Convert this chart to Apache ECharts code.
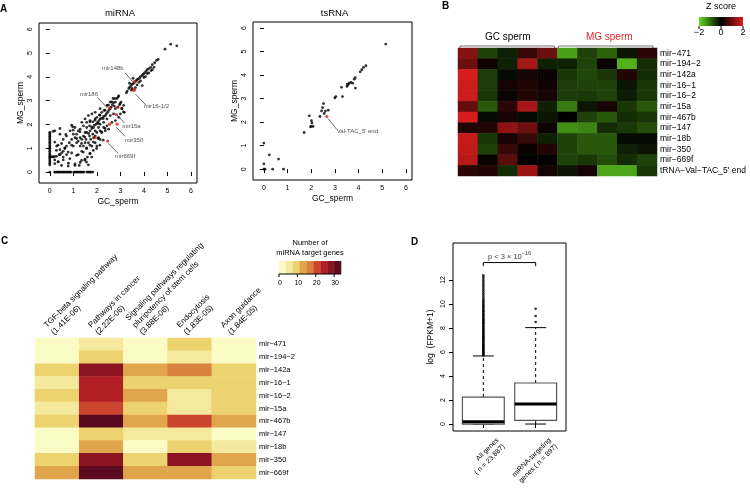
<!DOCTYPE html>
<html><head><meta charset="utf-8">
<script src="https://cdn.jsdelivr.net/npm/echarts@6/dist/echarts.min.js"></script>
<style>html,body{margin:0;padding:0;background:#fff}#c{width:750px;height:492px}</style>
</head><body><div id="c"></div>
<script>
const FONT = 'Liberation Sans, Arial, Helvetica, sans-serif';

// ---------------- Panel A data ----------------
const miRNAZeroRowX = [0,0.2,0.24,0.29,0.34,0.38,0.43,0.48,0.53,0.57,0.62,0.67,0.72,0.76,0.81,0.86,0.9,1.02,1.07,1.12,1.16,1.21,1.26,1.31,1.35,1.4,1.45,1.57,1.62,1.67,1.72,1.77,1.83];
const miRNAZeroColY = [0.3,0.36,0.42,0.48,0.55,0.6,0.64,0.68,0.74,0.8,0.87,0.93,1.0,1.06,1.12,1.19,1.25,1.31,1.38,1.44,1.5,1.56,1.62,1.67];
const miRNABump = [[0.06,0.64],[0.11,0.64],[0.16,0.64],[0.2,0.65]];
const miRNACloud = [
[2.93,3.2],[2.86,3.09],[2.79,2.94],[2.71,2.91],[2.74,2.77],[2.66,2.83],[2.61,2.73],[2.57,2.66],[2.51,2.59],[2.46,2.51],
[2.4,2.44],[2.36,2.37],[2.29,2.34],[2.21,2.26],[2.14,2.23],[2.09,2.16],[2.03,2.09],[1.97,2.01],[1.9,1.97],[1.86,1.87],
[1.79,1.83],[1.71,1.73],[2.79,2.66],[2.89,2.73],[2.97,2.83],[3.03,2.94],[3.07,2.66],[3.14,2.8],[3.17,2.51],[3.0,2.44],
[2.69,3.09],[2.57,2.94],[2.43,2.8],[2.31,2.59],[2.21,2.51],[2.11,2.4],[2.0,2.3],[1.93,2.23],[1.83,2.11],[1.69,1.94],
[1.57,1.87],[2.14,2.01],[2.29,2.09],[2.43,2.23],[2.57,2.37],[2.71,2.44],[2.07,1.87],[1.93,1.73],[2.0,1.66],[2.14,1.73],
[1.83,1.59],[1.69,1.51],[1.5,1.66],[1.43,1.51],[1.36,1.37],[1.29,1.44],[1.21,1.3],[1.54,1.37],[1.64,1.23],[1.74,1.37],
[1.86,1.44],[1.93,1.23],[1.79,1.09],[1.57,1.01],[1.43,1.09],[1.29,1.09],[1.14,1.23],[1.07,1.44],[1.0,1.59],[0.93,1.37],
[0.83,1.23],[0.71,1.09],[0.64,1.01],[0.57,0.87],[0.5,0.8],[0.4,0.73],[0.29,0.66],[0.21,0.51],[0.36,0.44],[0.57,0.51],
[0.79,0.37],[1.07,0.34],[1.29,0.4],[1.5,0.54],[1.6,0.63],[1.71,0.77],[1.21,0.73],[0.93,0.8],[0.71,0.73],[0.43,0.94],
[0.29,1.09],[0.21,1.73],[0.43,1.59],[0.57,1.37],[0.71,1.51],[0.93,1.97],[1.07,1.87],[1.21,1.73],[1.36,2.09],[1.5,2.23],
[1.64,2.37],[1.79,2.44],[1.93,2.51],[2.14,2.66],[1.29,1.8],[1.43,1.94],[1.57,2.09],[1.71,2.16],[1.57,1.66],[1.14,1.59],
[0.86,1.73],[1.0,1.09],[1.36,0.87],[1.5,1.23],[1.93,1.51],[2.07,1.44],[2.21,1.66],[2.36,1.73],[2.5,1.8],[2.29,1.87],
[2.43,1.94],[2.64,2.09],[2.79,2.16],[2.93,2.3],[2.14,1.37],[2.0,1.09],[1.64,0.3],
[0.14,1.71],[0.43,1.83],[0.68,1.58],[0.97,1.9],[0.99,1.76],[1.14,1.41],[1.28,1.69],[0.21,1.26],[0.35,1.13],[0.5,1.2],
[0.64,0.99],[0.28,0.91],[0.43,0.73],[0.57,0.63],[0.78,0.84],[0.93,1.13],[0.85,0.56],[0.35,0.42],[0.21,0.35],[0.5,0.28],
[0.78,0.25],[1.07,0.28],[1.25,0.28],[1.56,0.42],[1.35,0.49],[1.14,0.7],[1.42,0.84],[1.56,0.99],[1.71,1.13],[1.85,1.26],
[1.71,0.78],[1.35,1.2],[1.49,1.47],[1.65,1.62],[1.78,1.9],[1.71,2.11],[1.92,2.18],[2.06,2.04],[2.13,2.39],[2.27,2.25],
[2.35,2.6],[2.49,2.81],[2.63,2.95],[2.77,3.09],[2.91,3.16],[2.99,2.88],[3.06,2.67],[3.13,2.53],[2.2,1.69],[2.35,1.83],
[2.06,1.41],[2.13,1.13],[1.99,0.99],[1.85,0.91],[2.27,1.34],[1.78,0.63],[1.49,0.5]
];
const miRNABand = [
[4.54,4.69],[4.46,4.59],[4.36,4.51],[4.29,4.4],[4.21,4.34],[4.14,4.3],[4.09,4.23],[4.03,4.16],[3.97,4.11],[3.93,4.06],
[3.86,4.01],[3.81,3.94],[3.74,3.9],[3.69,3.86],[3.64,3.8],[3.57,3.73],[3.5,3.69],[3.46,3.63],[3.4,3.57],[3.36,3.51],
[3.29,3.4],[3.26,3.33],[3.5,3.51],[3.71,3.66],[3.86,3.83],[4.0,3.97],[4.14,4.14],[4.31,4.26],[4.43,4.4],[3.93,3.63],
[3.54,3.94],[3.39,3.73],[3.47,3.44],[3.64,3.54],[3.79,3.77],[4.07,4.01],[4.21,4.16],[4.36,4.3],[4.61,4.73]
];
const miRNATop = [[4.9,5.16],[5.14,5.37],[5.4,5.3]];
const miRNARed = [[3.6,3.8],[3.61,3.47],[3.58,3.42],[2.54,2.69],[2.9,2.73],[2.83,2.41],[2.54,2.01],[2.86,2.01],[1.93,1.44],[2.46,1.3]];
const miRNALabelNames = ['mir148b','mir186','mir16-1/2','mir15a','mir350','mir669f'];
const miRNALabelPos = [[2.68,4.36],[1.66,3.27],[4.53,2.74],[3.47,1.93],[3.58,1.34],[3.2,0.66]];
const miRNALeaders = [[3.2,4.17,3.53,3.79],[2.02,3.14,2.44,2.7],[3.65,3.27,4.09,2.81],[2.87,2.39,3.17,2.06],[2.84,1.87,3.2,1.5],[2.49,1.2,2.91,0.78]];

const tsRNAPoints = [
[5.15,5.32],[4.31,4.4],[4.21,4.33],[4.14,4.23],[4.07,4.14],[3.86,3.89],[3.82,3.83],[3.68,3.69],[3.6,3.66],[3.53,3.62],
[3.51,3.52],[3.56,3.59],[3.75,3.66],[3.87,3.45],[3.28,3.48],[3.32,3.09],[3.04,3.09],[3.0,3.03],[2.52,2.79],[2.48,2.62],
[2.44,2.48],[2.6,2.47],[2.72,2.51],[2.55,2.37],[2.37,2.24],[1.92,2.27],[2.01,2.06],[2.03,1.96],[2.0,1.82],[2.08,1.82],
[1.97,1.8],[1.7,1.56],[0,1.11],[0.23,0.61],[0.62,0.43],[0,0.23],[0,0],[0.05,0],[0.37,0],[0.83,0]
];
const tsRNARed = [[2.66,2.24]];
const tsRNALabelNames = ["Val-TAC_5' end"];
const tsRNALabelPos = [[3.08,1.62]];
const tsRNALeaders = [[2.72,2.15,3.08,1.69]];
const axisTicksA = [0,1,2,3,4,5,6];

// ---------------- Panel B data ----------------
const rowsB = ['mir\u2212471','mir\u2212194\u22122','mir\u2212142a','mir\u221216\u22121','mir\u221216\u22122','mir\u221215a','mir\u2212467b','mir\u2212147','mir\u221218b','mir\u2212350','mir\u2212669f',"tRNA\u2212Val\u2212TAC_5' end"];
const samplesB = ['GC1','GC2','GC3','GC4','GC5','MG1','MG2','MG3','MG4','MG5'];
const zScoresB = [
[1.2,-0.6,-0.3,0.5,1.0,-1.45,-0.6,-0.9,-0.2,0.4],
[1.0,0.15,-0.3,1.5,-0.3,-0.3,-0.6,0.1,-1.6,-0.4],
[1.95,-0.55,-0.1,0.2,0.1,-0.5,-0.65,-0.5,0.3,-0.4],
[1.85,-0.55,0.2,0.3,0.15,-0.55,-0.6,-0.6,-0.2,-0.5],
[1.85,-0.5,0.1,0.3,0.2,-0.55,-0.5,-0.6,-0.25,-0.5],
[0.9,-0.8,0.4,1.5,-0.3,-1.1,-0.2,0.2,-0.5,-0.8],
[1.95,-0.1,0.2,-0.1,-0.2,0.0,-0.6,-0.8,-0.4,-0.5],
[0.3,0.3,1.3,1.0,0.1,-1.3,-1.2,-0.4,-0.5,-0.7],
[1.8,-0.5,0.2,0.5,-0.3,-0.6,-0.8,-0.8,-0.1,-0.1],
[1.75,-0.6,0.5,0.1,0.3,-0.6,-0.8,-0.8,-0.3,-0.2],
[1.65,0.1,0.8,0.0,0.05,-0.6,-0.5,-0.7,-0.4,-0.6],
[0.4,0.3,-0.4,1.4,0.2,-0.2,0.2,-1.5,-1.5,-0.5]
];
const zColors = ['#66DC20','#000000','#DC1E1E'];
const zTicks = [-2,0,2];

// ---------------- Panel C data ----------------
const pathwaysC = ['TGF-beta signaling pathway\n(1.41E-06)','Pathways in cancer\n(2.22E-06)','Signaling pathways regulating\npluripotency of stem cells\n(3.88E-06)','Endocytosis\n(1.83E-05)','Axon guidance\n(1.84E-05)'];
const rowsC = ['mir\u2212471','mir\u2212194\u22122','mir\u2212142a','mir\u221216\u22121','mir\u221216\u22122','mir\u221215a','mir\u2212467b','mir\u2212147','mir\u221218b','mir\u2212350','mir\u2212669f'];
const countsC = [
[1,5,1,9,1],
[1,9,1,5,1],
[9,28,13,17,9],
[5,24,9,9,9],
[9,24,13,5,9],
[5,20,9,5,9],
[9,32,13,20,13],
[2,9,5,5,2],
[2,13,2,9,5],
[9,28,9,28,13],
[13,32,13,13,9]
];
const paletteC = ['#FBFBC6','#F4E99C','#ECD370','#E1A64B','#D8823E','#CC452F','#B22026','#8C1322','#5C0A1F'];
const breaksC = [0,3.75,7.5,11.25,15,18.75,22.5,26.25,30,33.75];
const legendTicksC = [0,10,20,30];

// ---------------- Panel D data ----------------
const groupsD = ['All genes\n( n = 23,887)','miRNA-targeting\ngenes ( n = 897)'];
const boxAll = [0, 0, 0.2, 2.25, 5.67];      // lower whisker, Q1, median, Q3, upper whisker
const boxTarget = [0, 0.3, 1.67, 3.42, 8.03];
const outliersAll = [5.72,5.78,5.85,5.9,5.97,6.05,6.1,6.18,6.25,6.31,6.4,6.46,6.55,6.6,6.68,6.77,6.83,6.9,7.0,7.06,7.15,7.22,7.3,7.38,7.45,7.55,7.62,7.7,7.8,7.88,7.95,8.05,8.13,8.2,8.3,8.4,8.47,8.55,8.65,8.72,8.8,8.9,9.0,9.08,9.15,9.25,9.35,9.42,9.5,9.6,9.7,9.8,9.9,10.0,10.1,10.2,10.32,10.45,10.6,10.75,10.9,11.05,11.2,11.35,11.5,11.65,11.8,11.95,12.1,12.25,12.38];
const outliersTarget = [8.5,9.0,9.6];
const bracketD = [13.15,13.45];
const pLabelD = [1.5,14.0];
const axisTicksD = [0,2,4,6,8,10,12];

// ---------------- layout ----------------
const G = {
  a1:{left:39,top:23,width:158,height:160},
  a2:{left:253,top:22,width:159,height:158},
  b:{left:458,top:48,width:199,height:128},
  c:{left:35,top:338,width:221,height:141},
  d:{left:453,top:243,width:113,height:188}
};
const DX = {min:0.42,max:2.58};

const chart = echarts.init(document.getElementById('c'), null, {renderer:'canvas', width:750, height:492});

function scatterX(gi){
  return {type:'value', gridIndex:gi, min:-0.46, max:6.26, name:'GC_sperm', nameLocation:'middle', nameGap:14,
    nameTextStyle:{fontSize:8.5, color:'#000', fontFamily:FONT},
    axisLine:{show:false}, splitLine:{show:false},
    axisTick:{show:true, customValues:axisTicksA, length:4, lineStyle:{color:'#000', width:1}},
    axisLabel:{customValues:axisTicksA, fontSize:7, color:'#000', margin:5, fontFamily:FONT}};
}
function scatterY(gi){
  return {type:'value', gridIndex:gi, min:-0.46, max:6.26, name:'MG_sperm', nameLocation:'middle', nameGap:14,
    nameTextStyle:{fontSize:8.5, color:'#000', fontFamily:FONT},
    axisLine:{show:false}, splitLine:{show:false},
    axisTick:{show:true, customValues:axisTicksA, length:4, lineStyle:{color:'#000', width:1}},
    axisLabel:{customValues:axisTicksA, fontSize:7, color:'#000', margin:5, rotate:90, fontFamily:FONT}};
}

const miRNABlack = []
  .concat(miRNAZeroRowX.map(x=>[x,0]))
  .concat(miRNAZeroColY.map(y=>[0,y]))
  .concat(miRNABump, miRNACloud, miRNABand, miRNATop);

function leaderMarkLine(list){
  return {silent:true, symbol:['none','none'], animation:false, label:{show:false},
    lineStyle:{color:'#222', width:0.7, type:'solid'},
    data:list.map(l=>[{coord:[l[0],l[1]]},{coord:[l[2],l[3]]}])};
}

const heatB = [];
zScoresB.forEach((row,r)=>row.forEach((v,c)=>heatB.push([c,r,v])));
const heatC = [];
countsC.forEach((row,r)=>row.forEach((v,c)=>heatC.push([c,r,v])));

function renderBox(params, api){
  const x = api.value(0), lo = api.value(1), q1 = api.value(2), med = api.value(3), q3 = api.value(4), hi = api.value(5);
  const hw = 0.4, cw = 0.2;
  const p = (a,b)=>api.coord([a,b]);
  const ch = [];
  const ln = (a,b,st)=>({type:'line', shape:{x1:a[0],y1:a[1],x2:b[0],y2:b[1]}, style:st});
  ch.push(ln(p(x,q3),p(x,hi),{stroke:'#000',lineWidth:1,lineDash:[3,3]}));
  if(q1>lo) ch.push(ln(p(x,lo),p(x,q1),{stroke:'#000',lineWidth:1,lineDash:[3,3]}));
  ch.push(ln(p(x-cw,hi),p(x+cw,hi),{stroke:'#000',lineWidth:1}));
  ch.push(ln(p(x-cw,lo),p(x+cw,lo),{stroke:'#000',lineWidth:1}));
  const tl = p(x-hw,q3), br = p(x+hw,q1);
  ch.push({type:'rect', shape:{x:tl[0],y:tl[1],width:br[0]-tl[0],height:br[1]-tl[1]}, style:{fill:'#fff',stroke:'#555',lineWidth:1.2}});
  ch.push(ln(p(x-hw,med),p(x+hw,med),{stroke:'#000',lineWidth:3}));
  return {type:'group', children:ch};
}

// ---------------- graphics (free text) ----------------
const gfx = [];
function T(x,y,text,o){
  o = o||{};
  const el = {type:'text', x:x, y:y, silent:true, style:{text:text, fontSize:o.fs||8, fontFamily:FONT, fontWeight:o.fw||'normal',
    fill:o.fill||'#000', align:o.align||'center', verticalAlign:o.va||'middle', lineHeight:o.lh}};
  if(o.rot) el.rotation = o.rot;
  return el;
}
gfx.push(T(0,4,'A',{fs:10,fw:'bold',align:'left',va:'top'}));
gfx.push(T(442,1,'B',{fs:10,fw:'bold',align:'left',va:'top'}));
gfx.push(T(1,236,'C',{fs:10,fw:'bold',align:'left',va:'top'}));
gfx.push(T(411,237,'D',{fs:10,fw:'bold',align:'left',va:'top'}));
gfx.push(T(G.a1.left+G.a1.width/2+2,13,'miRNA',{fs:9.5}));
gfx.push(T(G.a2.left+G.a2.width/2+2,13,'tsRNA',{fs:9.5}));

// B headers
const cwB = G.b.width/10;
gfx.push(T(G.b.left+2.5*cwB,37,'GC sperm',{fs:10}));
gfx.push(T(G.b.left+7.5*cwB+2,37,'MG sperm',{fs:10,fill:'#E4262B'}));
const hy = G.b.top-2;
gfx.push({type:'polyline', silent:true, shape:{points:[[G.b.left+2,hy+2],[G.b.left+2,hy],[G.b.left+5*cwB-3,hy],[G.b.left+5*cwB-3,hy+2]]}, style:{stroke:'#777',lineWidth:1,fill:null}});
gfx.push({type:'polyline', silent:true, shape:{points:[[G.b.left+5*cwB+1,hy+2],[G.b.left+5*cwB+1,hy],[G.b.left+10*cwB-4,hy],[G.b.left+10*cwB-4,hy+2]]}, style:{stroke:'#777',lineWidth:1,fill:null}});
// Z score legend
const zl = {x:699,y:17,w:44,h:9};
gfx.push(T(zl.x+zl.w/2,7,'Z score',{fs:9}));
gfx.push({type:'rect', silent:true, shape:{x:zl.x,y:zl.y,width:zl.w,height:zl.h},
  style:{fill:new echarts.graphic.LinearGradient(0,0,1,0,[{offset:0,color:zColors[0]},{offset:0.5,color:zColors[1]},{offset:1,color:zColors[2]}])}});
zTicks.forEach(t=>{
  const x = zl.x + (t+2)/4*zl.w;
  gfx.push({type:'line', silent:true, shape:{x1:x,y1:zl.y+zl.h,x2:x,y2:zl.y+zl.h+3}, style:{stroke:'#000',lineWidth:1}});
  gfx.push(T(x,33,t<0?'\u2212'+Math.abs(t):String(t),{fs:9}));
});

// C column labels
pathwaysC.forEach((s,i)=>{
  const cx = G.c.left + G.c.width*(i+0.5)/5;
  gfx.push(T(cx-1,G.c.top-1,s,{fs:8,align:'left',va:'bottom',lh:10,rot:Math.PI/4}));
});
// C legend
const cl = {x:279,y:261,w:62,h:13};
gfx.push(T(cl.x+cl.w/2,242.5,'Number of',{fs:7.5}));
gfx.push(T(cl.x+cl.w/2,252.5,'miRNA target genes',{fs:7.5}));
paletteC.forEach((col,i)=>{
  gfx.push({type:'rect', silent:true, shape:{x:cl.x+i*cl.w/9,y:cl.y,width:cl.w/9+0.3,height:cl.h}, style:{fill:col}});
});
gfx.push({type:'line', silent:true, shape:{x1:cl.x,y1:cl.y+cl.h,x2:cl.x+cl.w,y2:cl.y+cl.h}, style:{stroke:'#000',lineWidth:1}});
legendTicksC.forEach(t=>{
  const x = cl.x + t/breaksC[breaksC.length-1]*cl.w;
  gfx.push({type:'line', silent:true, shape:{x1:x,y1:cl.y+cl.h,x2:x,y2:cl.y+cl.h+3}, style:{stroke:'#000',lineWidth:1}});
  gfx.push(T(x+1,283,String(t),{fs:7}));
});
// D x labels
groupsD.forEach((s,i)=>{
  const x = G.d.left + (i+1-DX.min)/(DX.max-DX.min)*G.d.width;
  gfx.push(T(x+11,436,s,{fs:7,align:'right',va:'top',lh:9,rot:Math.PI/4}));
});

const option = {
  animation:false,
  backgroundColor:'#fff',
  textStyle:{fontFamily:FONT},
  grid:[
    Object.assign({show:true,borderColor:'#000',borderWidth:1,containLabel:false},G.a1),
    Object.assign({show:true,borderColor:'#000',borderWidth:1,containLabel:false},G.a2),
    Object.assign({show:false,containLabel:false},G.b),
    Object.assign({show:false,containLabel:false},G.c),
    Object.assign({show:true,borderColor:'#000',borderWidth:1,containLabel:false},G.d)
  ],
  xAxis:[
    scatterX(0), scatterX(1),
    {type:'category', gridIndex:2, data:samplesB, show:false},
    {type:'category', gridIndex:3, data:pathwaysC, show:false},
    {type:'value', gridIndex:4, min:DX.min, max:DX.max, axisLine:{show:false}, splitLine:{show:false},
     axisTick:{show:true, customValues:[1,2], length:4, lineStyle:{color:'#000'}}, axisLabel:{show:false}}
  ],
  yAxis:[
    scatterY(0), scatterY(1),
    {type:'category', gridIndex:2, data:rowsB, inverse:true, position:'right', axisLine:{show:false}, axisTick:{show:false},
     axisLabel:{interval:0, fontSize:8.5, color:'#000', margin:3, fontFamily:FONT}},
    {type:'category', gridIndex:3, data:rowsC, inverse:true, position:'right', axisLine:{show:false}, axisTick:{show:false},
     axisLabel:{interval:0, fontSize:7.5, color:'#000', margin:3, fontFamily:FONT}},
    {type:'value', gridIndex:4, min:-0.58, max:15.08, name:'log  (FPKM+1)', nameLocation:'middle', nameGap:18,
     nameTextStyle:{fontSize:8.5,color:'#000',fontFamily:FONT},
     axisLine:{show:false}, splitLine:{show:false},
     axisTick:{show:true, customValues:axisTicksD, length:4, lineStyle:{color:'#000'}},
     axisLabel:{customValues:axisTicksD, fontSize:7, color:'#000', margin:6, rotate:90, fontFamily:FONT}}
  ],
  visualMap:[
    {type:'continuous', seriesIndex:6, dimension:2, min:-2, max:2, show:false, inRange:{color:zColors}},
    {type:'piecewise', seriesIndex:7, dimension:2, show:false,
     pieces:paletteC.map((c,i)=>({gte:breaksC[i], lt:breaksC[i+1], color:c}))}
  ],
  series:[
    {type:'scatter', xAxisIndex:0, yAxisIndex:0, data:miRNABlack, symbolSize:2.8, itemStyle:{color:'#000'}, silent:true},
    {type:'scatter', xAxisIndex:0, yAxisIndex:0, data:miRNARed, symbolSize:3.2, itemStyle:{color:'#E41A1C'}, silent:true,
     markLine:leaderMarkLine(miRNALeaders)},
    {type:'scatter', xAxisIndex:0, yAxisIndex:0, symbolSize:0, silent:true,
     data:miRNALabelNames.map((n,i)=>({name:n, value:miRNALabelPos[i]})),
     label:{show:true, position:'inside', formatter:'{b}', fontSize:6, color:'#222', fontFamily:FONT}},
    {type:'scatter', xAxisIndex:1, yAxisIndex:1, data:tsRNAPoints, symbolSize:2.8, itemStyle:{color:'#000'}, silent:true},
    {type:'scatter', xAxisIndex:1, yAxisIndex:1, data:tsRNARed, symbolSize:3.2, itemStyle:{color:'#E41A1C'}, silent:true,
     markLine:leaderMarkLine(tsRNALeaders)},
    {type:'scatter', xAxisIndex:1, yAxisIndex:1, symbolSize:0, silent:true,
     data:tsRNALabelNames.map((n,i)=>({name:n, value:tsRNALabelPos[i]})),
     label:{show:true, position:'right', distance:0, formatter:'{b}', fontSize:6, color:'#222', fontFamily:FONT}},
    {type:'heatmap', xAxisIndex:2, yAxisIndex:2, data:heatB, silent:true, itemStyle:{borderWidth:0}},
    {type:'heatmap', xAxisIndex:3, yAxisIndex:3, data:heatC, silent:true, itemStyle:{borderWidth:0}},
    {type:'custom', xAxisIndex:4, yAxisIndex:4, silent:true, renderItem:renderBox,
     encode:{x:0, y:[1,2,3,4,5]},
     data:[[1].concat(boxAll),[2].concat(boxTarget)]},
    {type:'scatter', xAxisIndex:4, yAxisIndex:4, silent:true, symbolSize:2.6, itemStyle:{color:'#000'},
     data:outliersAll.map(v=>[1,v]).concat(outliersTarget.map(v=>[2,v]))},
    {type:'line', xAxisIndex:4, yAxisIndex:4, silent:true, symbol:'none', lineStyle:{color:'#000',width:1},
     data:[[1,bracketD[0]],[1,bracketD[1]],[2,bracketD[1]],[2,bracketD[0]]]},
    {type:'scatter', xAxisIndex:4, yAxisIndex:4, silent:true, symbolSize:0,
     data:[{value:pLabelD}],
     label:{show:true, position:'inside', formatter:'{a|p < 3 \u00d7 10}{b|\u221216}',
       rich:{a:{fontSize:7.5, color:'#000', lineHeight:10, verticalAlign:'bottom', fontFamily:FONT},
             b:{fontSize:5.5, color:'#000', verticalAlign:'top', fontFamily:FONT}}}}
  ],
  graphic:{elements:gfx}
};
chart.setOption(option);
</script></body></html>
